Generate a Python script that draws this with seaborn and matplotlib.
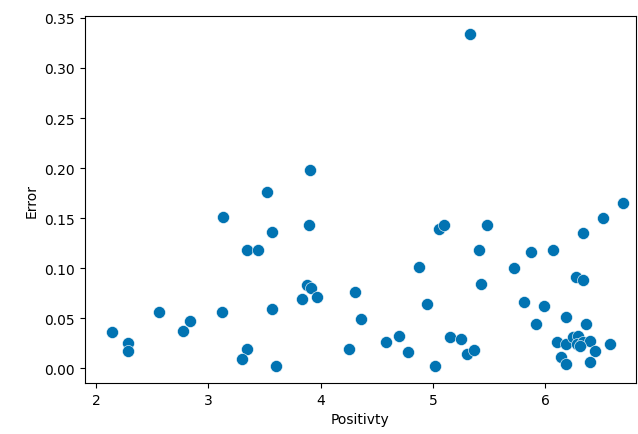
import pandas as pd
import matplotlib
matplotlib.use("Agg")
import matplotlib.pyplot as plt
import seaborn as sns

# values
positivity = [2.145, 2.28, 2.28, 2.56, 2.775, 2.834, 3.12, 3.13, 3.34, 3.44,
              3.525, 3.565, 3.565, 3.345, 3.30, 3.60, 3.908, 3.894, 3.88, 3.915,
              3.83, 3.97, 4.253, 4.31, 4.357, 5.333, 4.585, 4.70, 4.78, 4.88,
              4.945, 5.02, 5.057, 5.10, 5.15, 5.247, 5.30, 5.366, 5.408, 5.426,
              5.485, 5.72, 5.81, 5.87, 5.918, 5.99, 6.067, 6.108, 6.138, 6.19,
              6.19, 6.19, 6.274, 6.34, 6.336, 6.363, 6.25, 6.295, 6.28, 6.34,
              6.40, 6.31, 6.444, 6.396, 6.517, 6.577, 6.696]
error = [0.0356, 0.0246, 0.017, 0.0558, 0.037, 0.047, 0.0558, 0.151, 0.118, 0.118,
         0.1765, 0.136, 0.059, 0.019, 0.009, 0.002, 0.198, 0.143, 0.083, 0.080,
         0.069, 0.0715, 0.019, 0.0758, 0.049, 0.334, 0.0256, 0.032, 0.0156, 0.101,
         0.064, 0.002, 0.139, 0.143, 0.0306, 0.029, 0.0137, 0.0176, 0.118, 0.0844,
         0.143, 0.0997, 0.0658, 0.116, 0.044, 0.0625, 0.118, 0.026, 0.011, 0.0508,
         0.0037, 0.024, 0.0914, 0.088, 0.1346, 0.044, 0.0306, 0.032, 0.024, 0.0256,
         0.027, 0.0216, 0.017, 0.0057, 0.1496, 0.024, 0.165]

df = pd.DataFrame({"Positivty": positivity, "Error": error})

sns.set_palette("colorblind")
fig = plt.figure(figsize=(6.38, 4.35), dpi=100)
ax = fig.add_axes([0.133, 0.117, 0.864, 0.844])
sns.scatterplot(data=df, x="Positivty", y="Error", s=75, edgecolor="white",
                linewidth=0.4, ax=ax)
ax.set_xlim(1.90, 6.81)
ax.set_ylim(-0.015, 0.352)
ax.set_xticks([2, 3, 4, 5, 6])
ax.set_yticks([0.0, 0.05, 0.10, 0.15, 0.20, 0.25, 0.30, 0.35])
ax.yaxis.set_major_formatter(matplotlib.ticker.FormatStrFormatter("%.2f"))
fig.savefig("out.png", dpi=100)
